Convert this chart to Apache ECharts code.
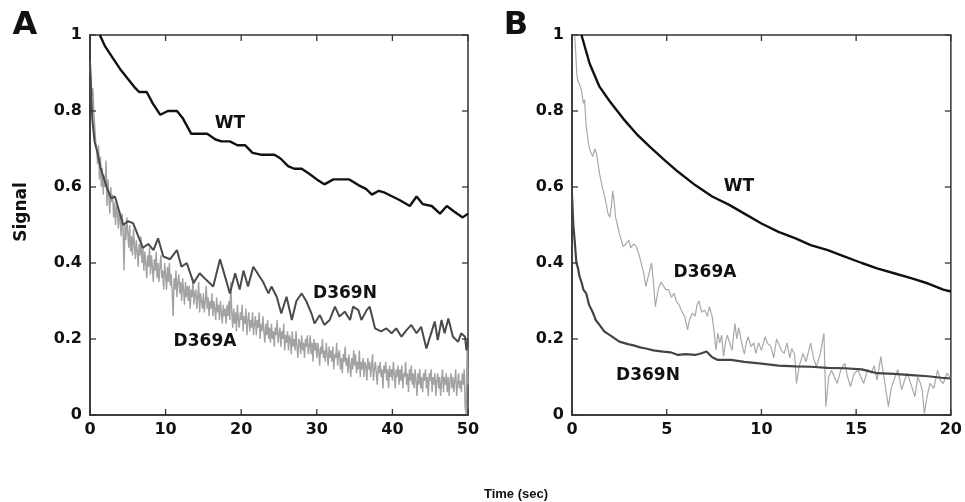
<!DOCTYPE html>
<html><head><meta charset="utf-8">
<script src="https://cdn.jsdelivr.net/npm/echarts@6/dist/echarts.min.js"></script>
<style>html,body{margin:0;padding:0;background:#fff}#c{width:965px;height:502px}</style>
</head><body><div id="c"></div>
<script>
// Panel A (0-50 s)
const wtA = [[1.3,1.0],[2,0.97],[3,0.94],[4,0.91],[5,0.885],[6,0.86],[6.5,0.85],[7.5,0.85],[8.3,0.82],[9.3,0.79],[10.3,0.80],[11.5,0.80],[12.3,0.78],[13.4,0.74],[15.5,0.74],[16.6,0.725],[17.4,0.72],[18.5,0.72],[19.5,0.71],[20.5,0.71],[21.5,0.69],[22.6,0.685],[24.4,0.685],[25.2,0.675],[26.2,0.655],[27,0.648],[28,0.648],[29,0.635],[30,0.62],[31,0.607],[32.2,0.62],[34.3,0.62],[35.5,0.605],[36.5,0.595],[37.3,0.58],[38.2,0.59],[39,0.585],[40,0.575],[41,0.565],[42.3,0.55],[43.2,0.575],[44,0.555],[45.2,0.55],[46.3,0.53],[47.2,0.55],[48.2,0.535],[49.3,0.52],[50,0.53]];
const d369nA = [[0,0.93],[0.3,0.78],[0.6,0.72],[1,0.69],[1.4,0.65],[2.2,0.60],[2.8,0.57],[3.3,0.575],[3.8,0.54],[4.4,0.50],[5,0.51],[5.7,0.505],[6.2,0.48],[7,0.44],[7.7,0.45],[8.4,0.434],[9,0.465],[9.7,0.417],[10.6,0.41],[11.5,0.434],[12.1,0.39],[12.8,0.40],[13.7,0.347],[14.5,0.373],[15.4,0.355],[16.3,0.338],[17.2,0.41],[18,0.355],[18.5,0.32],[19.2,0.373],[19.8,0.33],[20.3,0.38],[20.9,0.338],[21.6,0.39],[22.9,0.35],[23.6,0.32],[24,0.338],[24.7,0.311],[25.3,0.267],[26,0.311],[26.7,0.25],[27.3,0.30],[28,0.32],[28.6,0.30],[29.3,0.267],[29.7,0.241],[30.4,0.263],[31,0.237],[31.7,0.25],[32.4,0.285],[33,0.259],[33.7,0.272],[34.4,0.25],[34.8,0.285],[35.5,0.276],[35.9,0.25],[36.6,0.276],[37,0.285],[37.7,0.228],[38.5,0.22],[39.2,0.228],[39.9,0.215],[40.5,0.228],[41.2,0.206],[41.9,0.224],[42.5,0.237],[43.2,0.215],[43.8,0.232],[44.5,0.175],[45.2,0.22],[45.6,0.246],[46,0.197],[46.5,0.25],[46.9,0.215],[47.4,0.254],[48,0.206],[48.7,0.193],[49.1,0.215],[49.6,0.206],[49.8,0.17],[50,0.20]];
const d369aAStep = 0.125;
const d369aA = [
0.93,0.88,0.84,0.86,0.80,0.76,0.72,0.70, 0.66,0.71,0.62,0.68,0.60,0.65,0.58,0.63,
0.60,0.67,0.55,0.62,0.57,0.53,0.60,0.56, 0.58,0.52,0.56,0.50,0.55,0.53,0.49,0.54,
0.51,0.47,0.53,0.49,0.38,0.50,0.46,0.52, 0.48,0.44,0.50,0.43,0.47,0.42,0.49,0.45,
0.41,0.46,0.43,0.39,0.45,0.42,0.47,0.40, 0.44,0.38,0.43,0.40,0.36,0.42,0.39,0.44,
0.37,0.42,0.39,0.35,0.41,0.38,0.43,0.36, 0.40,0.35,0.39,0.42,0.36,0.38,0.33,0.40,
0.37,0.33,0.39,0.35,0.40,0.34,0.37,0.32, 0.26,0.36,0.33,0.38,0.31,0.35,0.37,0.32,
0.35,0.30,0.36,0.33,0.29,0.35,0.31,0.34, 0.30,0.34,0.28,0.33,0.31,0.36,0.29,0.32,
0.33,0.28,0.31,0.35,0.27,0.32,0.30,0.28, 0.32,0.27,0.30,0.34,0.28,0.31,0.26,0.30,
0.28,0.32,0.26,0.30,0.28,0.25,0.31,0.27, 0.29,0.25,0.30,0.27,0.24,0.29,0.26,0.28,
0.24,0.29,0.26,0.30,0.25,0.35,0.27,0.23, 0.28,0.24,0.27,0.22,0.29,0.25,0.23,0.27,
0.25,0.29,0.22,0.26,0.24,0.28,0.21,0.25, 0.27,0.22,0.25,0.23,0.27,0.21,0.24,0.26,
0.21,0.25,0.23,0.27,0.20,0.24,0.22,0.26, 0.22,0.19,0.24,0.21,0.25,0.20,0.23,0.19,
0.24,0.20,0.22,0.18,0.23,0.21,0.25,0.19, 0.21,0.23,0.18,0.22,0.20,0.24,0.17,0.21,
0.19,0.22,0.17,0.21,0.20,0.16,0.22,0.18, 0.20,0.17,0.22,0.18,0.15,0.20,0.19,0.16,
0.21,0.17,0.19,0.15,0.20,0.18,0.21,0.16, 0.18,0.21,0.16,0.19,0.14,0.20,0.17,0.19,
0.15,0.19,0.17,0.13,0.18,0.16,0.20,0.15, 0.17,0.14,0.19,0.16,0.13,0.18,0.15,0.17,
0.14,0.18,0.12,0.16,0.15,0.19,0.13,0.16, 0.17,0.12,0.15,0.11,0.16,0.14,0.18,0.13,
0.15,0.11,0.16,0.13,0.10,0.15,0.12,0.17, 0.13,0.16,0.11,0.14,0.12,0.17,0.10,0.14,
0.12,0.15,0.10,0.14,0.13,0.09,0.15,0.12, 0.14,0.10,0.13,0.16,0.09,0.12,0.14,0.11,
0.08,0.13,0.11,0.14,0.10,0.12,0.07,0.13, 0.11,0.14,0.09,0.12,0.07,0.13,0.10,0.12,
0.09,0.14,0.11,0.07,0.12,0.10,0.13,0.08, 0.12,0.09,0.13,0.07,0.11,0.10,0.14,0.08,
0.11,0.06,0.12,0.09,0.13,0.08,0.11,0.07, 0.12,0.09,0.05,0.11,0.08,0.12,0.07,0.10,
0.06,0.11,0.09,0.12,0.07,0.10,0.05,0.11, 0.09,0.12,0.06,0.10,0.08,0.11,0.05,0.09,
0.11,0.07,0.10,0.05,0.09,0.12,0.06,0.10, 0.08,0.11,0.06,0.10,0.05,0.09,0.11,0.07,
0.10,0.06,0.09,0.12,0.05,0.08,0.11,0.07, 0.09,0.06,0.11,0.08,0.12,0.02,0.00,0.18,
0.08];
// Panel B (0-20 s)
const wtB = [[0.5,1.0],[0.93,0.925],[1.45,0.864],[2,0.825],[2.7,0.78],[3.4,0.74],[4.1,0.706],[4.9,0.67],[5.6,0.64],[6.5,0.605],[7.4,0.575],[8.3,0.553],[9.1,0.53],[10,0.504],[10.9,0.482],[11.8,0.465],[12.6,0.447],[13.5,0.434],[14.4,0.417],[15.3,0.40],[16.1,0.386],[17,0.373],[17.9,0.36],[18.8,0.346],[19.6,0.33],[20,0.325]];
const d369nB = [[0,0.58],[0.07,0.50],[0.14,0.46],[0.23,0.40],[0.3,0.39],[0.4,0.364],[0.5,0.35],[0.6,0.33],[0.75,0.32],[0.9,0.29],[1.1,0.27],[1.25,0.25],[1.45,0.237],[1.7,0.22],[2,0.21],[2.5,0.193],[3,0.186],[3.2,0.184],[3.6,0.178],[3.9,0.175],[4.3,0.17],[4.8,0.167],[5.2,0.165],[5.6,0.158],[6.0,0.16],[6.5,0.158],[6.8,0.162],[7.1,0.167],[7.4,0.152],[7.7,0.145],[8.4,0.145],[9.1,0.14],[10,0.135],[10.9,0.13],[11.8,0.128],[12.6,0.127],[13.5,0.124],[14.4,0.123],[15.3,0.12],[16.1,0.11],[17,0.108],[17.9,0.105],[18.8,0.102],[19.5,0.098],[20,0.096]];
const d369aB = [[0.14,1.0],[0.2,0.95],[0.25,0.90],[0.3,0.88],[0.4,0.87],[0.5,0.855],[0.6,0.82],[0.66,0.83],[0.75,0.76],[0.85,0.72],[0.93,0.70],[1.0,0.69],[1.1,0.68],[1.2,0.70],[1.28,0.69],[1.38,0.66],[1.45,0.636],[1.6,0.60],[1.7,0.58],[1.8,0.557],[1.9,0.53],[2,0.52],[2.1,0.56],[2.15,0.59],[2.25,0.55],[2.3,0.52],[2.4,0.50],[2.5,0.478],[2.6,0.46],[2.7,0.443],[2.85,0.45],[3,0.46],[3.1,0.44],[3.25,0.45],[3.4,0.443],[3.55,0.42],[3.7,0.39],[3.8,0.37],[3.9,0.338],[4.05,0.37],[4.2,0.40],[4.3,0.35],[4.4,0.285],[4.55,0.33],[4.7,0.35],[4.8,0.347],[4.95,0.33],[5.1,0.33],[5.25,0.31],[5.4,0.32],[5.5,0.30],[5.65,0.29],[5.8,0.272],[5.95,0.26],[6.1,0.224],[6.2,0.25],[6.35,0.268],[6.5,0.26],[6.6,0.29],[6.7,0.30],[6.85,0.27],[7,0.276],[7.15,0.26],[7.25,0.285],[7.4,0.259],[7.5,0.22],[7.6,0.171],[7.7,0.215],[7.8,0.19],[7.9,0.21],[8,0.154],[8.1,0.19],[8.2,0.21],[8.3,0.215],[8.45,0.17],[8.6,0.241],[8.7,0.20],[8.8,0.23],[9,0.18],[9.1,0.16],[9.2,0.19],[9.3,0.206],[9.45,0.18],[9.6,0.19],[9.7,0.162],[9.85,0.19],[10,0.17],[10.2,0.206],[10.3,0.19],[10.5,0.18],[10.65,0.15],[10.8,0.2],[10.9,0.189],[11.05,0.17],[11.2,0.162],[11.35,0.19],[11.5,0.15],[11.6,0.175],[11.75,0.16],[11.85,0.083],[12.0,0.13],[12.2,0.162],[12.35,0.14],[12.5,0.17],[12.6,0.189],[12.75,0.15],[12.9,0.127],[13.1,0.16],[13.3,0.215],[13.4,0.022],[13.55,0.1],[13.7,0.118],[13.85,0.1],[14,0.083],[14.2,0.12],[14.4,0.136],[14.55,0.1],[14.7,0.075],[14.9,0.11],[15.1,0.118],[15.25,0.1],[15.4,0.083],[15.6,0.12],[15.8,0.11],[15.95,0.13],[16.1,0.092],[16.2,0.12],[16.3,0.154],[16.5,0.09],[16.7,0.022],[16.85,0.07],[17,0.092],[17.2,0.12],[17.4,0.066],[17.55,0.09],[17.7,0.11],[17.9,0.08],[18.1,0.048],[18.25,0.1],[18.4,0.083],[18.5,0.06],[18.6,0.004],[18.75,0.05],[18.9,0.083],[19.1,0.07],[19.3,0.118],[19.45,0.09],[19.6,0.083],[19.8,0.11],[20,0.096]];
const xTicksA = [0,10,20,30,40,50];
const xTicksB = [0,5,10,15,20];
const yTickVals = [0,0.2,0.4,0.6,0.8,1];
const yTicks = ['0','0.2','0.4','0.6','0.8','1'];

const chart = echarts.init(document.getElementById('c'));
const font = '"DejaVu Sans", Verdana, sans-serif';
function axLine(){ return {show:true, onZero:false, lineStyle:{color:'#333', width:1.5}}; }
function lbl(){ return {fontFamily:font, fontWeight:'bold', fontSize:16, color:'#111'}; }
function xLab(grid, max, interval){
  return {type:'value', gridIndex:grid, min:0, max:max, interval:interval, position:'bottom',
    axisLine:axLine(), axisTick:{show:false}, splitLine:{show:false},
    axisLabel:Object.assign({show:true, margin:7}, lbl())};
}
function yLab(grid){
  return {type:'value', gridIndex:grid, min:0, max:1, interval:0.2, position:'left',
    axisLine:axLine(), axisTick:{show:false}, splitLine:{show:false},
    axisLabel:Object.assign({show:true, margin:8, formatter:v=>yTicks[Math.round(v*5)]}, lbl())};
}
const d369aAPts = d369aA.map((v,i)=>[i*d369aAStep, v]);
function line(data, xi, yi, color, w, z){
  return {type:'line', xAxisIndex:xi, yAxisIndex:yi, data:data, showSymbol:false, symbol:'none',
    lineStyle:{color:color, width:w}, z:z, animation:false};
}
function txt(x,y,s,size){
  return {type:'text', x:x, y:y, z:10, style:{text:s, font:'bold '+size+'px '+font, fill:'#111', align:'center', verticalAlign:'middle'}};
}
const texts = [
  txt(25,26,'A',32), txt(516,26,'B',32),
  txt(230,124,'WT',17), txt(345,294,'D369N',17), txt(205,342,'D369A',17),
  txt(739,187,'WT',17), txt(705,273,'D369A',17), txt(648,376,'D369N',17),
  {type:'text', x:516, y:494, style:{text:'Time (sec)', font:'bold 13px "Liberation Sans", Arial, sans-serif', fill:'#111', align:'center', verticalAlign:'middle'}},
  {type:'text', x:22, y:212, rotation:Math.PI/2, style:{text:'Signal', font:'bold 17px '+font, fill:'#111', align:'center', verticalAlign:'middle'}}
];
const gridBox = {show:true, borderColor:'#333', borderWidth:1.5, backgroundColor:'transparent'};
chart.setOption({
  animation:false,
  grid:[Object.assign({left:90, top:35, width:378, height:380}, gridBox), Object.assign({left:572, top:35, width:381, height:380}, gridBox)],
  xAxis:[xLab(0,50,10), xLab(1,20,5)],
  yAxis:[yLab(0), yLab(1)],
  series:[
    line(d369aAPts,0,0,'#a2a2a2',1.4,2),
    line(d369nA,0,0,'#4a4a4a',2,3),
    line(wtA,0,0,'#111',2.4,4),
    line(d369aB,1,1,'#a8a8a8',1.2,2),
    line(d369nB,1,1,'#444',2.2,3),
    line(wtB,1,1,'#111',2.4,4)
  ],
  graphic:texts
});
// inward tick marks on all four sides, placed via the axes' own scales
const tickEls = [];
const L = 6;
function addTicks(ai, xVals){
  const x0 = chart.convertToPixel({xAxisIndex:ai}, 0);
  const x1 = chart.convertToPixel({xAxisIndex:ai}, xVals[xVals.length-1]);
  const y0 = chart.convertToPixel({yAxisIndex:ai}, 0);
  const y1 = chart.convertToPixel({yAxisIndex:ai}, 1);
  const st = {stroke:'#333', lineWidth:1.3};
  xVals.forEach(v=>{
    const px = chart.convertToPixel({xAxisIndex:ai}, v);
    tickEls.push({type:'line', silent:true, z:5, shape:{x1:px, y1:y0, x2:px, y2:y0-L}, style:st});
    tickEls.push({type:'line', silent:true, z:5, shape:{x1:px, y1:y1, x2:px, y2:y1+L}, style:st});
  });
  yTickVals.forEach(v=>{
    const py = chart.convertToPixel({yAxisIndex:ai}, v);
    tickEls.push({type:'line', silent:true, z:5, shape:{x1:x0, y1:py, x2:x0+L, y2:py}, style:st});
    tickEls.push({type:'line', silent:true, z:5, shape:{x1:x1, y1:py, x2:x1-L, y2:py}, style:st});
  });
}
addTicks(0, xTicksA);
addTicks(1, xTicksB);
chart.setOption({graphic: texts.concat(tickEls)});
</script></body></html>
